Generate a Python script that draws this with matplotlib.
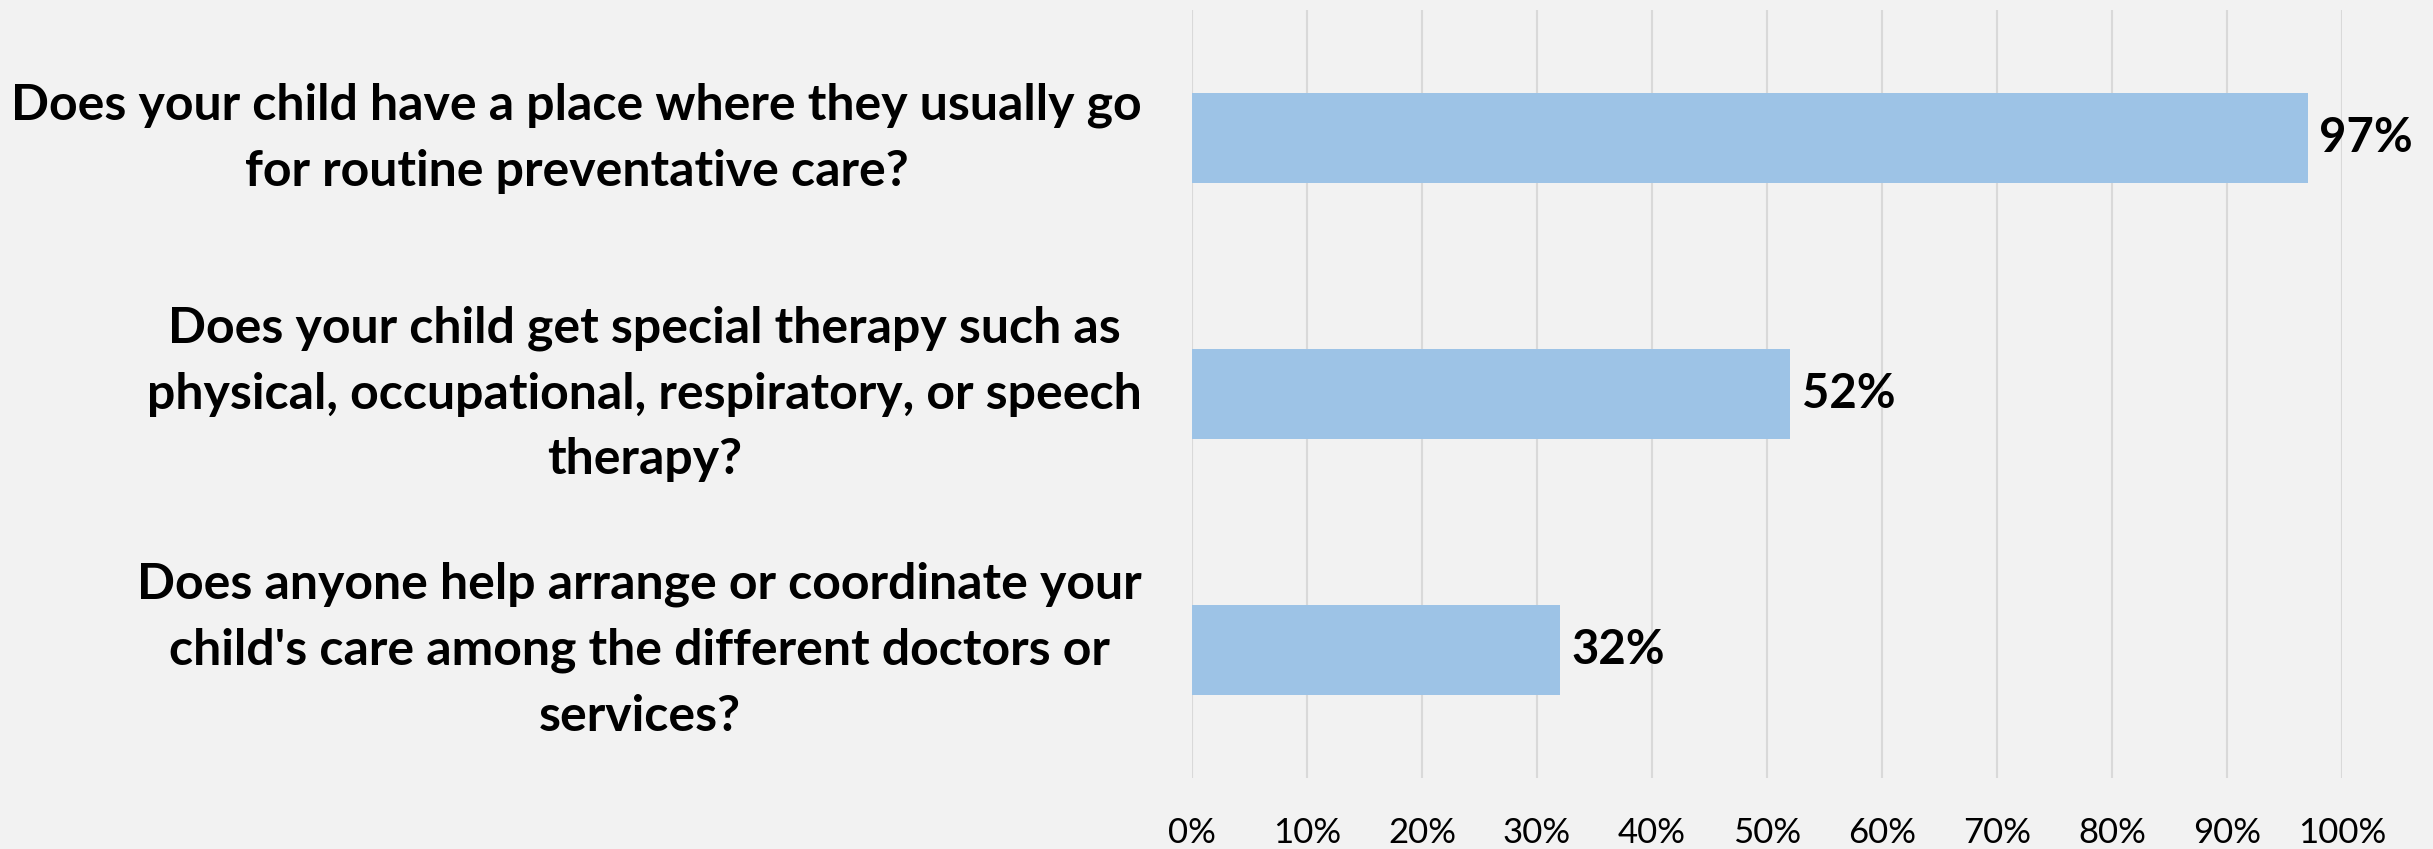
import matplotlib
matplotlib.use('Agg')
import matplotlib.pyplot as plt
from matplotlib.ticker import MultipleLocator, PercentFormatter

QUESTIONS = [
    'Does your child have a place where they usually go\nfor routine preventative care?',
    'Does your child get special therapy such as\nphysical, occupational, respiratory, or speech\ntherapy?',
    "Does anyone help arrange or coordinate your\nchild's care among the different doctors or\nservices?",
]
PCT_YES = [97, 52, 32]

BG = '#F2F2F2'
BAR = '#9DC3E6'
GRID = '#D9D9D9'

plt.rcParams['font.family'] = ['Lato', 'DejaVu Sans']

fig = plt.figure(figsize=(24.33, 8.49), dpi=100, facecolor=BG)
ax = fig.add_axes([1192 / 2433, 1 - 778 / 849, 1150 / 2433, 768 / 849])
ax.set_facecolor(BG)

pos = list(range(len(QUESTIONS)))
ax.barh(pos, PCT_YES, height=0.355, color=BAR, zorder=2)
ax.set_ylim(len(QUESTIONS) - 0.5, -0.5)
ax.set_xlim(0, 100)

ax.xaxis.set_major_locator(MultipleLocator(10))
ax.xaxis.set_major_formatter(PercentFormatter(decimals=0))
ax.grid(axis='x', color=GRID, linewidth=1.5, zorder=0)
ax.tick_params(axis='x', length=0, labelsize=25, pad=28)
ax.tick_params(axis='y', length=0)
ax.set_yticks([])
for s in ax.spines.values():
    s.set_visible(False)

for p, q, v in zip(pos, QUESTIONS, PCT_YES):
    ax.text(-50 / 1150 * 100, p, q, ha='right', va='center', multialignment='center',
            fontsize=36, fontweight='bold', linespacing=1.56)
    ax.text(v + 1.0, p, f'{v}%', ha='left', va='center',
            fontsize=34, fontweight='bold')

fig.savefig('out.png', dpi=100, facecolor=BG)
